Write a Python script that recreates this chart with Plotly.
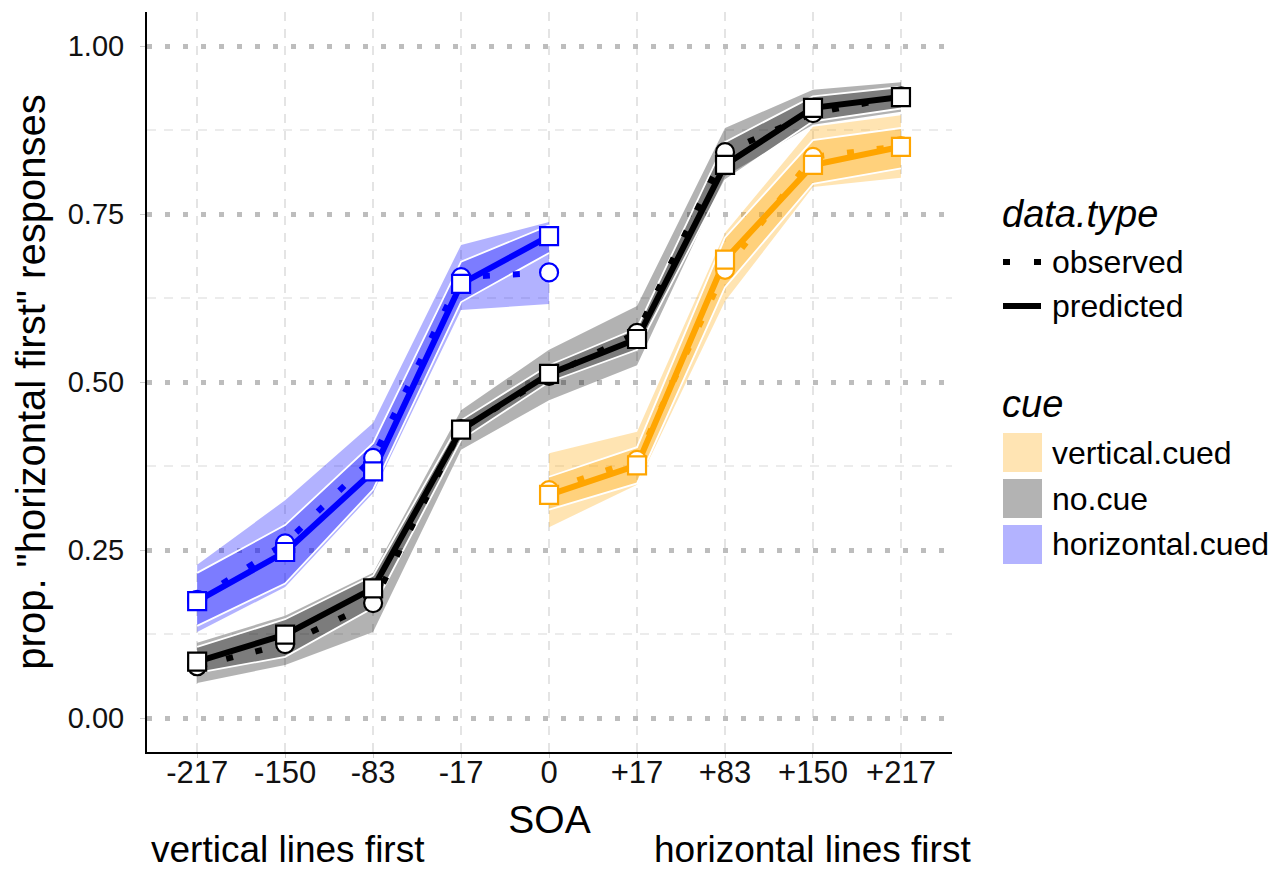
import plotly.graph_objects as go

# ---------------- data ----------------
soa_labels = ["-217", "-150", "-83", "-17", "0", "+17", "+83", "+150", "+217"]
soa_pos = list(range(len(soa_labels)))

# horizontal.cued (blue) : SOA -217 .. 0
hc_idx = [0, 1, 2, 3, 4]
hc_obs = [0.176, 0.260, 0.387, 0.656, 0.663]
hc_pred = [0.174, 0.247, 0.367, 0.646, 0.717]
hc_obs_lo = [0.128, 0.195, 0.335, 0.607, 0.616]
hc_obs_hi = [0.228, 0.324, 0.439, 0.704, 0.738]
hc_pred_lo = [0.137, 0.200, 0.340, 0.619, 0.692]
hc_pred_hi = [0.216, 0.287, 0.409, 0.679, 0.733]

# no.cue (black) : all SOAs
nc_idx = [0, 1, 2, 3, 4, 5, 6, 7, 8]
nc_obs = [0.077, 0.110, 0.171, 0.430, 0.509, 0.573, 0.842, 0.900, 0.925]
nc_pred = [0.084, 0.124, 0.193, 0.429, 0.512, 0.564, 0.823, 0.908, 0.924]
nc_obs_lo = [0.052, 0.079, 0.128, 0.399, 0.473, 0.525, 0.806, 0.883, 0.902]
nc_obs_hi = [0.112, 0.152, 0.216, 0.458, 0.548, 0.613, 0.878, 0.935, 0.946]
nc_pred_lo = [0.067, 0.091, 0.164, 0.414, 0.500, 0.548, 0.800, 0.888, 0.907]
nc_pred_hi = [0.106, 0.147, 0.212, 0.443, 0.525, 0.580, 0.857, 0.925, 0.939]

# vertical.cued (orange) : SOA 0 .. +217
vc_idx = [4, 5, 6, 7, 8]
vc_obs = [0.339, 0.384, 0.667, 0.835, 0.851]
vc_pred = [0.332, 0.376, 0.682, 0.823, 0.850]
vc_obs_lo = [0.284, 0.347, 0.620, 0.790, 0.804]
vc_obs_hi = [0.394, 0.426, 0.722, 0.880, 0.897]
vc_pred_lo = [0.310, 0.349, 0.641, 0.795, 0.818]
vc_pred_hi = [0.359, 0.403, 0.715, 0.860, 0.878]

cue_names = ["vertical.cued", "no.cue", "horizontal.cued"]
type_names = ["observed", "predicted"]

# ---------------- styles ----------------
FONT = "Liberation Sans, Arial, Helvetica, sans-serif"
cue_line = {"vertical.cued": "rgb(255,165,0)", "no.cue": "rgb(0,0,0)", "horizontal.cued": "rgb(0,0,255)"}
cue_fill = {"vertical.cued": "rgba(255,165,0,0.3)", "no.cue": "rgba(0,0,0,0.3)", "horizontal.cued": "rgba(0,0,255,0.3)"}
cue_patch = {"vertical.cued": "#ffe4b3", "no.cue": "#b3b3b3", "horizontal.cued": "#b3b3ff"}

cues = {
    "vertical.cued": dict(idx=vc_idx, obs=vc_obs, pred=vc_pred, olo=vc_obs_lo, ohi=vc_obs_hi, plo=vc_pred_lo, phi=vc_pred_hi),
    "no.cue": dict(idx=nc_idx, obs=nc_obs, pred=nc_pred, olo=nc_obs_lo, ohi=nc_obs_hi, plo=nc_pred_lo, phi=nc_pred_hi),
    "horizontal.cued": dict(idx=hc_idx, obs=hc_obs, pred=hc_pred, olo=hc_obs_lo, ohi=hc_obs_hi, plo=hc_pred_lo, phi=hc_pred_hi),
}

fig = go.Figure()

# observed confidence ribbons (no outline)
for c in cue_names:
    d = cues[c]
    fig.add_trace(go.Scatter(x=d["idx"], y=d["ohi"], mode="lines", line=dict(width=0, color="rgba(0,0,0,0)"),
                             showlegend=False, hoverinfo="skip"))
    fig.add_trace(go.Scatter(x=d["idx"], y=d["olo"], mode="lines", line=dict(width=0, color="rgba(0,0,0,0)"),
                             fill="tonexty", fillcolor=cue_fill[c], showlegend=False, hoverinfo="skip"))

# predicted ribbons (white outline)
for c in cue_names:
    d = cues[c]
    fig.add_trace(go.Scatter(x=d["idx"], y=d["phi"], mode="lines", line=dict(width=1.8, color="white"),
                             showlegend=False, hoverinfo="skip"))
    fig.add_trace(go.Scatter(x=d["idx"], y=d["plo"], mode="lines", line=dict(width=1.8, color="white"),
                             fill="tonexty", fillcolor=cue_fill[c], showlegend=False, hoverinfo="skip"))

# lines
for c in cue_names:
    d = cues[c]
    fig.add_trace(go.Scatter(x=d["idx"], y=d["pred"], mode="lines",
                             line=dict(width=6, color=cue_line[c]), showlegend=False, name=c + " predicted"))
    fig.add_trace(go.Scatter(x=d["idx"], y=d["obs"], mode="lines",
                             line=dict(width=6, color=cue_line[c], dash="7px,23px"), showlegend=False,
                             name=c + " observed"))

# points: circles (observed) then squares (predicted)
for c in cue_names:
    d = cues[c]
    fig.add_trace(go.Scatter(x=d["idx"], y=d["obs"], mode="markers",
                             marker=dict(symbol="circle", size=18, color="white",
                                         line=dict(width=2.2, color=cue_line[c])),
                             showlegend=False, name=c + " observed"))
for c in cue_names:
    d = cues[c]
    fig.add_trace(go.Scatter(x=d["idx"], y=d["pred"], mode="markers",
                             marker=dict(symbol="square", size=18, color="white",
                                         line=dict(width=2.2, color=cue_line[c])),
                             showlegend=False, name=c + " predicted"))

# ---------------- layout ----------------
L, R, T, B = 147, 320, 12, 120
W, H = 1272, 872
PW, PH = W - L - R, H - T - B


def px_x(px):
    return (px - L) / PW


def px_y(py):
    return (H - B - py) / PH


fig.update_layout(
    width=W, height=H,
    margin=dict(l=L, r=R, t=T, b=B, pad=0),
    paper_bgcolor="white", plot_bgcolor="white",
    font=dict(family=FONT, color="black"),
    showlegend=False,
    xaxis=dict(
        range=[-0.57, 8.58], tickmode="array", tickvals=soa_pos, ticktext=soa_labels,
        showline=True, linecolor="black", linewidth=2, zeroline=False,
        ticks="outside", ticklen=4, tickcolor="#cccccc", tickwidth=1,
        tickfont=dict(size=31, color="#111111", family=FONT), ticklabelstandoff=-12,
        showgrid=True, gridcolor="#e4e4e4", gridwidth=1.5, griddash="9px,8px",
        title=dict(text="SOA", font=dict(size=39, family=FONT), standoff=16),
    ),
    yaxis=dict(
        range=[-0.0506, 1.0506], tickmode="array", tickvals=[0, 0.25, 0.5, 0.75, 1.0],
        ticktext=["0.00", "0.25", "0.50", "0.75", "1.00"],
        showline=True, linecolor="black", linewidth=2, zeroline=False,
        ticks="outside", ticklen=5, tickcolor="#cccccc", tickwidth=1,
        tickfont=dict(size=29, color="#111111", family=FONT), ticklabelstandoff=10,
        showgrid=True, gridcolor="#bdbdbd", gridwidth=5, griddash="5px,13px",
        minor=dict(tickmode="array", tickvals=[0.125, 0.375, 0.625, 0.875], showgrid=True,
                   gridcolor="#ececec", gridwidth=1.5, griddash="9px,8px", ticks=""),
        title=dict(text='prop. "horizontal first" responses', font=dict(size=40, family=FONT), standoff=10),
    ),
)

ann = []
shapes = []
# direction labels below x axis
ann.append(dict(text="vertical lines first", x=px_x(150), y=px_y(871), xref="paper", yref="paper",
                xanchor="left", yanchor="bottom", showarrow=False, borderpad=0, font=dict(size=37, family=FONT)))
ann.append(dict(text="horizontal lines first", x=px_x(972), y=px_y(871), xref="paper", yref="paper",
                xanchor="right", yanchor="bottom", showarrow=False, borderpad=0, font=dict(size=37, family=FONT)))

# legend: data.type
ann.append(dict(text="<i>data.type</i>", x=px_x(1000), y=px_y(214), xref="paper", yref="paper",
                xanchor="left", yanchor="middle", showarrow=False, font=dict(size=38, family=FONT)))
key_y = {"observed": 262, "predicted": 306}
shapes.append(dict(type="line", xref="paper", yref="paper", x0=px_x(1003), x1=px_x(1041),
                   y0=px_y(key_y["observed"]), y1=px_y(key_y["observed"]),
                   line=dict(color="black", width=6, dash="7px,24px")))
shapes.append(dict(type="line", xref="paper", yref="paper", x0=px_x(1003), x1=px_x(1041),
                   y0=px_y(key_y["predicted"]), y1=px_y(key_y["predicted"]),
                   line=dict(color="black", width=6)))
for t in type_names:
    ann.append(dict(text=t, x=px_x(1050), y=px_y(key_y[t]), xref="paper", yref="paper",
                    xanchor="left", yanchor="middle", showarrow=False, font=dict(size=32, family=FONT)))

# legend: cue
ann.append(dict(text="<i>cue</i>", x=px_x(1000), y=px_y(404), xref="paper", yref="paper",
                xanchor="left", yanchor="middle", showarrow=False, font=dict(size=38, family=FONT)))
patch_top = {"vertical.cued": 433, "no.cue": 479, "horizontal.cued": 525}
for c in cue_names:
    y0 = patch_top[c]
    shapes.append(dict(type="rect", xref="paper", yref="paper", x0=px_x(1003), x1=px_x(1042),
                       y0=px_y(y0), y1=px_y(y0 + 39), fillcolor=cue_patch[c], line=dict(width=0)))
    ann.append(dict(text=c, x=px_x(1050), y=px_y(y0 + 19.5), xref="paper", yref="paper",
                    xanchor="left", yanchor="middle", showarrow=False, font=dict(size=32, family=FONT)))

fig.update_layout(annotations=ann, shapes=shapes)
fig.write_html("out.html", config={"displayModeBar": False},
               post_script="document.body.style.margin='0px';")
